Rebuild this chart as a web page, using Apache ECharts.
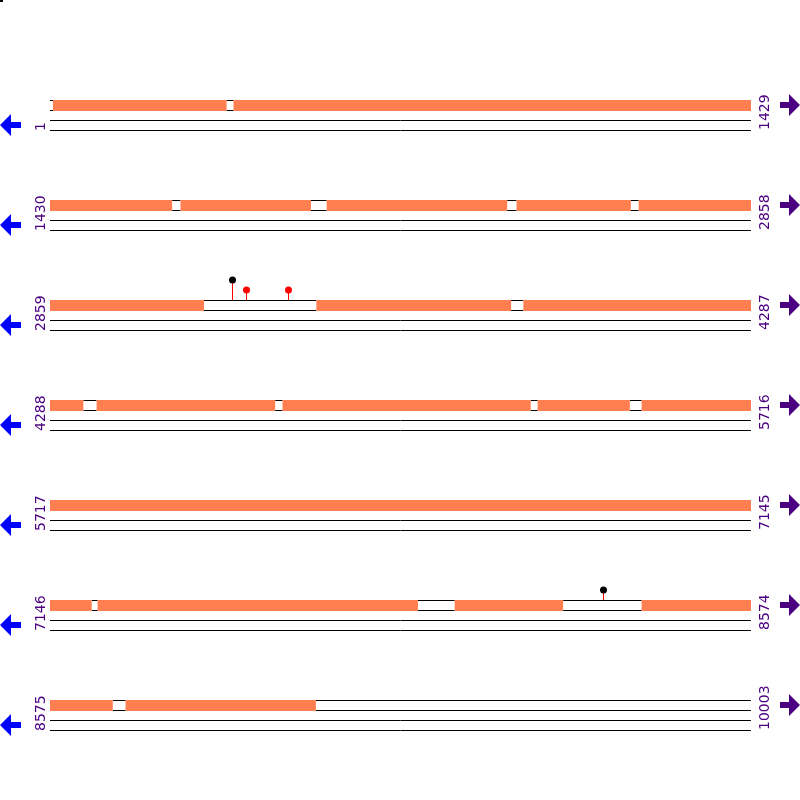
<!DOCTYPE html>
<html>
<head>
<meta charset="utf-8">
<script src="https://cdn.jsdelivr.net/npm/echarts@6/dist/echarts.min.js"></script>
<style>
  html, body { margin: 0; padding: 0; background: #fff; }
  #chart { width: 800px; height: 800px; }
</style>
</head>
<body>
<div id="chart"></div>
<script>
// row ranges (sequence positions)
const rowStarts = [1, 1430, 2859, 4288, 5717, 7146, 8575];
const rowEnds = [1429, 2858, 4287, 5716, 7145, 8574, 10003];
// uncovered regions [start, end]
const gaps = [
  [1, 6], [361, 374],
  [1679, 1695], [1962, 1993], [2362, 2380], [2614, 2629],
  [3173, 3401], [3799, 3823],
  [4356, 4382], [4747, 4761], [5268, 5281], [5470, 5493],
  [7231, 7242], [7896, 7970], [8192, 8351],
  [8703, 8728], [9117, 10003]
];
// variant markers
const markerPos = [3230, 3259, 3344, 8272];
const markerLevel = [2, 1, 1, 1];
const markerColor = ['#000000', '#ff0000', '#ff0000', '#000000'];

const ROW_LEN = 1429;
const rowOf = p => Math.floor((p - 1) / ROW_LEN);

// covered segments = row minus gaps
const covered = [];
rowStarts.forEach((s, i) => {
  let cur = s;
  gaps.filter(g => rowOf(g[0]) === i).sort((a, b) => a[0] - b[0]).forEach(g => {
    if (g[0] > cur) covered.push([cur - s, i + 1, g[0] - s]);
    cur = g[1] + 1;
  });
  if (cur <= rowEnds[i]) covered.push([cur - s, i + 1, rowEnds[i] - s + 1]);
});
const gapData = gaps.map(g => {
  const r = rowOf(g[0]);
  return [g[0] - rowStarts[r], r + 1, g[1] - rowStarts[r] + 1];
});
const rowData = rowStarts.map((s, i) => [0, i + 1, rowEnds[i] - s + 1, s, rowEnds[i]]);
const markerData = markerPos.map((p, i) => {
  const r = rowOf(p);
  return [p - rowStarts[r] + 0.5, r + 1, markerLevel[i], i];
});

const chart = echarts.init(document.getElementById('chart'));

const line = (x1, y1, x2, y2, color, w) => ({
  type: 'line', shape: { x1, y1, x2, y2 },
  style: { stroke: color, lineWidth: w || 1 }
});

chart.setOption({
  animation: false,
  grid: { left: 50, right: 49, top: 0, bottom: 0 },
  xAxis: { type: 'value', min: 0, max: ROW_LEN, show: false },
  yAxis: { type: 'value', min: 0, max: 8, inverse: true, show: false },
  graphic: [{ type: 'rect', shape: { x: 0, y: 0, width: 3, height: 2 }, style: { fill: '#000' } }],
  series: [
    {
      // two reference lines per row, labels and arrows
      type: 'custom',
      data: rowData,
      encode: { x: [0, 2], y: 1 },
      renderItem: (params, api) => {
        const a = api.coord([api.value(0), api.value(1)]);
        const b = api.coord([api.value(2), api.value(1)]);
        const y = Math.round(a[1]);
        const x0 = a[0], x1 = b[0];
        return {
          type: 'group',
          children: [
            line(x0, y + 20.5, x1, y + 20.5, '#000'),
            line(x0, y + 30.5, x1, y + 30.5, '#000'),
            {
              type: 'text', x: x0 - 9, y: y + 31, rotation: Math.PI / 2,
              style: { text: String(api.value(3)), fill: '#4b0082', font: '14px "DejaVu Sans"',
                textAlign: 'left', textVerticalAlign: 'middle' }
            },
            {
              type: 'text', x: x1 + 14, y: y + 30, rotation: Math.PI / 2,
              style: { text: String(api.value(4)), fill: '#4b0082', font: '14px "DejaVu Sans"',
                textAlign: 'left', textVerticalAlign: 'middle' }
            },
            {
              type: 'polygon',
              shape: { points: [[x0 - 50, y + 25], [x0 - 39, y + 14], [x0 - 39, y + 22], [x0 - 29, y + 22],
                [x0 - 29, y + 28], [x0 - 39, y + 28], [x0 - 39, y + 36]] },
              style: { fill: '#0000ff' }
            },
            {
              type: 'polygon',
              shape: { points: [[x1 + 49, y + 5], [x1 + 38, y - 6], [x1 + 38, y + 2], [x1 + 29, y + 2],
                [x1 + 29, y + 8], [x1 + 38, y + 8], [x1 + 38, y + 16]] },
              style: { fill: '#4b0082' }
            }
          ]
        };
      }
    },
    {
      // uncovered boxes
      type: 'custom',
      data: gapData,
      encode: { x: [0, 2], y: 1 },
      renderItem: (params, api) => {
        const a = api.coord([api.value(0), api.value(1)]);
        const b = api.coord([api.value(2), api.value(1)]);
        const y = Math.round(a[1]);
        return {
          type: 'group',
          children: [
            line(a[0], y + 0.5, b[0], y + 0.5, '#000'),
            line(a[0], y + 10.5, b[0], y + 10.5, '#000')
          ]
        };
      }
    },
    {
      // covered segments
      type: 'custom',
      data: covered,
      encode: { x: [0, 2], y: 1 },
      renderItem: (params, api) => {
        const a = api.coord([api.value(0), api.value(1)]);
        const b = api.coord([api.value(2), api.value(1)]);
        const y = Math.round(a[1]);
        return {
          type: 'rect',
          shape: { x: a[0], y: y, width: b[0] - a[0], height: 11 },
          style: { fill: '#ff7f50' }
        };
      }
    },
    {
      // lollipops
      type: 'custom',
      data: markerData,
      encode: { x: 0, y: 1 },
      renderItem: (params, api) => {
        const a = api.coord([api.value(0), api.value(1)]);
        const y = Math.round(a[1]);
        const x = Math.round(a[0]) + 0.5;
        const top = y - 10 * api.value(2);
        return {
          type: 'group',
          children: [
            line(x, y, x, top, '#ff0000'),
            { type: 'circle', shape: { cx: x, cy: top, r: 3.5 },
              style: { fill: markerColor[api.value(3)] } }
          ]
        };
      }
    }
  ]
});
</script>
</body>
</html>
